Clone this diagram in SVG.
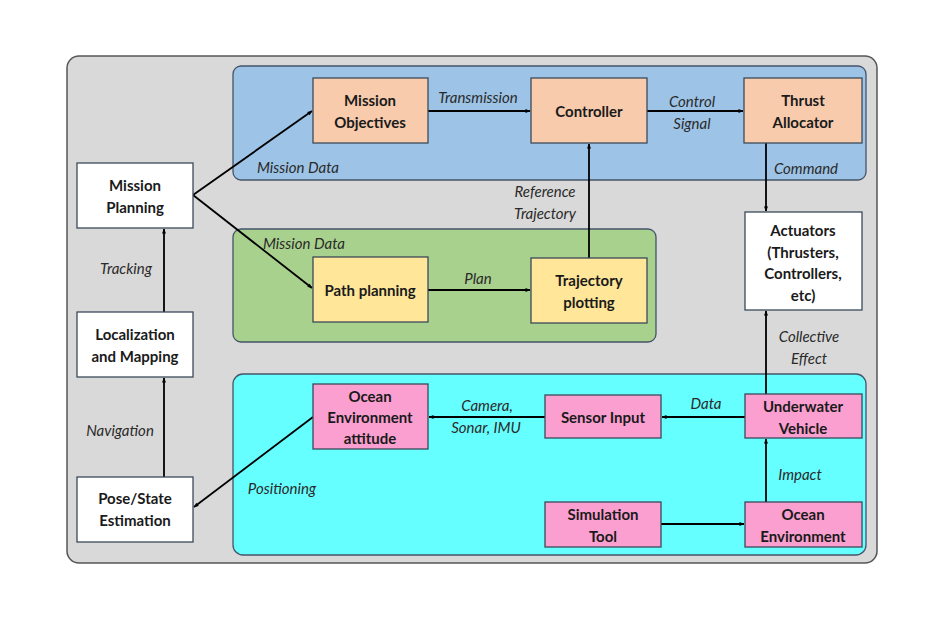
<svg xmlns="http://www.w3.org/2000/svg" width="944" height="630" viewBox="0 0 944 630">
<style>
.n{stroke:#3b4a5a;stroke-width:1.3}
.t{font-family:Lato,"Open Sans",sans-serif;font-weight:bold;font-size:15px;fill:#1a1a1a;text-anchor:middle;dominant-baseline:central}
.l{font-family:Lato,"Open Sans",sans-serif;font-style:italic;font-size:15px;fill:#2a2a2a;text-anchor:middle;dominant-baseline:central}
.ls{font-family:Lato,"Open Sans",sans-serif;font-style:italic;font-size:15px;fill:#2a2a2a;text-anchor:start;dominant-baseline:central}
.c{stroke:#000;stroke-width:1.8;fill:none;marker-end:url(#a)}
.w{fill:#ffffff}.o{fill:#f8cbad}.y{fill:#ffe699}.p{fill:#fb9fd0}
</style>
<defs>
<marker id="a" viewBox="0 0 10 10" refX="9" refY="5" markerWidth="6" markerHeight="5" orient="auto" markerUnits="userSpaceOnUse"><path d="M0,1 L10,5 L0,9 z" fill="#000"/></marker>
</defs>
<rect width="944" height="630" fill="#fff"/>
<g id="panels">
<rect x="67" y="56" width="810" height="507" rx="12" fill="#d9d9d9" stroke="#555" stroke-width="1.5"/>
<rect x="233" y="66" width="633" height="114" rx="8" fill="#9dc3e6" stroke="#44546a" stroke-width="1.3"/>
<rect x="233" y="229" width="423" height="113" rx="8" fill="#a9d18e" stroke="#44546a" stroke-width="1.3"/>
<rect x="233" y="374" width="633" height="181" rx="10" fill="#66ffff" stroke="#44546a" stroke-width="1.3"/>
</g>
<g id="connectors">
<line class="c" x1="193" y1="195" x2="312" y2="111"/>
<line class="c" x1="193" y1="195" x2="312" y2="288"/>
<line class="c" x1="428" y1="111" x2="530" y2="111"/>
<line class="c" x1="647" y1="111" x2="743" y2="111"/>
<line class="c" x1="589" y1="258" x2="589" y2="144"/>
<line class="c" x1="428" y1="290" x2="530" y2="290"/>
<line class="c" x1="766" y1="143" x2="766" y2="211"/>
<line class="c" x1="766" y1="394" x2="766" y2="311"/>
<line class="c" x1="745" y1="417" x2="662" y2="417"/>
<line class="c" x1="545" y1="417" x2="429" y2="417"/>
<line class="c" x1="313" y1="417" x2="194" y2="507"/>
<line class="c" x1="661" y1="524" x2="744" y2="524"/>
<line class="c" x1="766" y1="502" x2="766" y2="439"/>
<line class="c" x1="164" y1="312" x2="164" y2="229"/>
<line class="c" x1="164" y1="477" x2="164" y2="378"/>
</g>
<g id="labels">
<text class="ls" x="257" y="167">Mission Data</text>
<text class="ls" x="263" y="243">Mission Data</text>
<text class="l" x="478" y="97">Transmission</text>
<text class="l" x="692" y="101">Control</text>
<text class="l" x="692" y="123">Signal</text>
<text class="l" x="806" y="168">Command</text>
<text class="l" x="545" y="191">Reference</text>
<text class="l" x="545" y="213">Trajectory</text>
<text class="l" x="126" y="268">Tracking</text>
<text class="l" x="478" y="278">Plan</text>
<text class="l" x="809" y="336">Collective</text>
<text class="l" x="809" y="358">Effect</text>
<text class="l" x="120" y="430">Navigation</text>
<text class="l" x="487" y="405">Camera,</text>
<text class="l" x="486" y="427">Sonar, IMU</text>
<text class="l" x="706" y="403">Data</text>
<text class="l" x="282" y="488">Positioning</text>
<text class="l" x="800" y="474">Impact</text>
</g>
<g id="mission-planning"><rect class="n w" x="77" y="163" width="116" height="65"/><text class="t" x="135" y="185">Mission</text><text class="t" x="135" y="207">Planning</text></g>
<g id="localization"><rect class="n w" x="77" y="312" width="116" height="65"/><text class="t" x="135" y="334">Localization</text><text class="t" x="135" y="356">and Mapping</text></g>
<g id="pose-state"><rect class="n w" x="77" y="477" width="116" height="65"/><text class="t" x="135" y="498">Pose/State</text><text class="t" x="135" y="520">Estimation</text></g>
<g id="mission-objectives"><rect class="n o" x="313" y="78" width="115" height="65"/><text class="t" x="370" y="100">Mission</text><text class="t" x="370" y="122">Objectives</text></g>
<g id="controller"><rect class="n o" x="531" y="78" width="116" height="65"/><text class="t" x="589" y="111">Controller</text></g>
<g id="thrust-allocator"><rect class="n o" x="744" y="78" width="118" height="65"/><text class="t" x="803" y="100">Thrust</text><text class="t" x="803" y="122">Allocator</text></g>
<g id="actuators"><rect class="n w" x="745" y="212" width="117" height="98"/><text class="t" x="803" y="230">Actuators</text><text class="t" x="803" y="252">(Thrusters,</text><text class="t" x="803" y="273">Controllers,</text><text class="t" x="803" y="295">etc)</text></g>
<g id="path-planning"><rect class="n y" x="313" y="257" width="115" height="65"/><text class="t" x="370" y="290">Path planning</text></g>
<g id="trajectory-plotting"><rect class="n y" x="531" y="258" width="116" height="65"/><text class="t" x="589" y="280">Trajectory</text><text class="t" x="589" y="302">plotting</text></g>
<g id="ocean-env-attitude"><rect class="n p" x="313" y="384" width="115" height="65"/><text class="t" x="370" y="396">Ocean</text><text class="t" x="370" y="417">Environment</text><text class="t" x="370" y="438">attitude</text></g>
<g id="sensor-input"><rect class="n p" x="545" y="395" width="116" height="43"/><text class="t" x="603" y="417">Sensor Input</text></g>
<g id="underwater-vehicle"><rect class="n p" x="745" y="394" width="117" height="44"/><text class="t" x="803" y="406">Underwater</text><text class="t" x="803" y="428">Vehicle</text></g>
<g id="simulation-tool"><rect class="n p" x="545" y="502" width="116" height="45"/><text class="t" x="603" y="514">Simulation</text><text class="t" x="603" y="536">Tool</text></g>
<g id="ocean-environment"><rect class="n p" x="745" y="502" width="117" height="45"/><text class="t" x="803" y="514">Ocean</text><text class="t" x="803" y="536">Environment</text></g>
</svg>
